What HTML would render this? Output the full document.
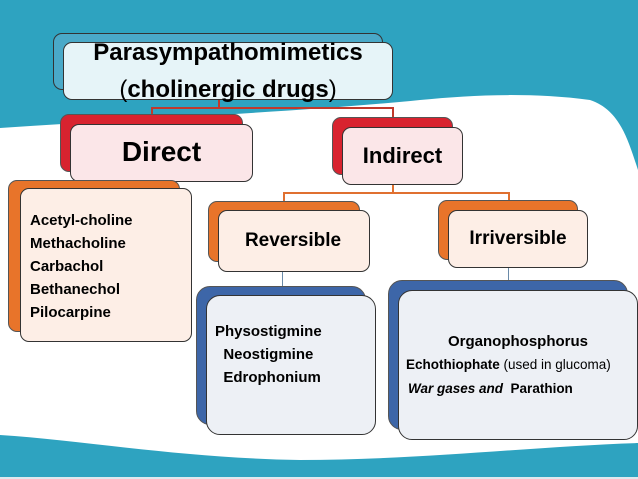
<!DOCTYPE html>
<html><head><style>
body{margin:0;width:638px;height:479px;overflow:hidden;background:#fff;font-family:"Liberation Sans",sans-serif}
.b{position:absolute;border-radius:9px;box-sizing:border-box}
.f{position:absolute;border-radius:9px;box-sizing:border-box;border:1px solid #333}
.t{position:absolute;font-weight:bold;color:#000;white-space:nowrap}
.l{position:absolute;background:#c0392b}
</style></head><body>
<svg width="638" height="479" style="position:absolute;left:0;top:0">
<path d="M0 0H638V170C628 140 620 110 590 100C530 92 470 95 420 100C300 112 150 118 0 128Z" fill="#2ea3c0"/>
<path d="M0 435C80 440 180 458 300 460C420 460 540 446 638 443V477H0Z" fill="#2ea3c0"/>
<path d="M0 477H638V479H0Z" fill="#dfe9ee"/>
</svg>
<div class="l" style="left:218px;top:100px;width:2px;height:9px"></div>
<div class="l" style="left:151px;top:107px;width:243px;height:2px"></div>
<div class="l" style="left:151px;top:107px;width:2px;height:8px"></div>
<div class="l" style="left:392px;top:107px;width:2px;height:12px"></div>
<div class="l" style="left:392px;top:185px;width:2px;height:9px;background:#e07030"></div>
<div class="l" style="left:283px;top:192px;width:227px;height:2px;background:#e07030"></div>
<div class="l" style="left:283px;top:192px;width:2px;height:10px;background:#e07030"></div>
<div class="l" style="left:508px;top:192px;width:2px;height:10px;background:#e07030"></div>
<div class="l" style="left:282px;top:272px;width:1px;height:15px;background:#6a8aa8"></div>
<div class="l" style="left:508px;top:268px;width:1px;height:14px;background:#6a8aa8"></div>
<div class="b" style="left:53px;top:33px;width:330px;height:57px;background:#4aa9c8;border:1px solid #333"></div>
<div class="f" style="left:63px;top:42px;width:330px;height:58px;background:#e6f4f8"></div>
<div class="t" style="left:63px;width:330px;top:34px;text-align:center;font-size:24px;line-height:37px;font-weight:bold">Parasympathomimetics<br><span style="font-weight:normal">(</span>cholinergic drugs<span style="font-weight:normal">)</span></div>
<div class="b" style="left:60px;top:114px;width:183px;height:58px;background:#d8232f;border:1px solid #555"></div>
<div class="f" style="left:70px;top:124px;width:183px;height:58px;background:#fbe6e8"></div>
<div class="t" style="left:70px;width:183px;top:136px;text-align:center;font-size:28px">Direct</div>
<div class="b" style="left:332px;top:117px;width:121px;height:58px;background:#d8232f;border:1px solid #555"></div>
<div class="f" style="left:342px;top:127px;width:121px;height:58px;background:#fbe6e8"></div>
<div class="t" style="left:342px;width:121px;top:143px;text-align:center;font-size:22px">Indirect</div>
<div class="b" style="left:8px;top:180px;width:172px;height:152px;background:#e8742a;border:1px solid #555"></div>
<div class="f" style="left:20px;top:188px;width:172px;height:154px;background:#fdeee6"></div>
<div class="t" style="left:30px;top:209px;font-size:15px;line-height:23px">Acetyl-choline<br>Methacholine<br>Carbachol<br>Bethanechol<br>Pilocarpine</div>
<div class="b" style="left:208px;top:201px;width:152px;height:61px;background:#e8742a;border:1px solid #555"></div>
<div class="f" style="left:218px;top:210px;width:152px;height:62px;background:#fdeee6"></div>
<div class="t" style="left:222px;width:142px;top:230px;text-align:center;font-size:19px">Reversible</div>
<div class="b" style="left:438px;top:200px;width:140px;height:60px;background:#e8742a;border:1px solid #555"></div>
<div class="f" style="left:448px;top:210px;width:140px;height:58px;background:#fdeee6"></div>
<div class="t" style="left:448px;width:140px;top:228px;text-align:center;font-size:19px">Irriversible</div>
<div class="b" style="left:196px;top:286px;width:170px;height:139px;background:#3d66a8;border:1px solid #555;border-radius:14px"></div>
<div class="f" style="left:206px;top:295px;width:170px;height:140px;background:#edf0f5;border-radius:14px"></div>
<div class="t" style="left:215px;top:320px;font-size:15px;line-height:23px">Physostigmine<br>&nbsp;&nbsp;Neostigmine<br>&nbsp;&nbsp;Edrophonium</div>
<div class="b" style="left:388px;top:280px;width:240px;height:150px;background:#3d66a8;border:1px solid #555;border-radius:14px"></div>
<div class="f" style="left:398px;top:290px;width:240px;height:150px;background:#edf0f5;border-radius:14px"></div>
<div class="t" style="left:398px;width:240px;top:333px;text-align:center;font-size:15px">Organophosphorus</div>
<div class="t" style="left:406px;top:357px;font-size:13.5px">Echothiophate <span style="font-weight:normal">(used in glucoma)</span></div>
<div class="t" style="left:408px;top:381px;font-size:13.5px"><i>War gases and</i>&nbsp; Parathion</div>
</body></html>
